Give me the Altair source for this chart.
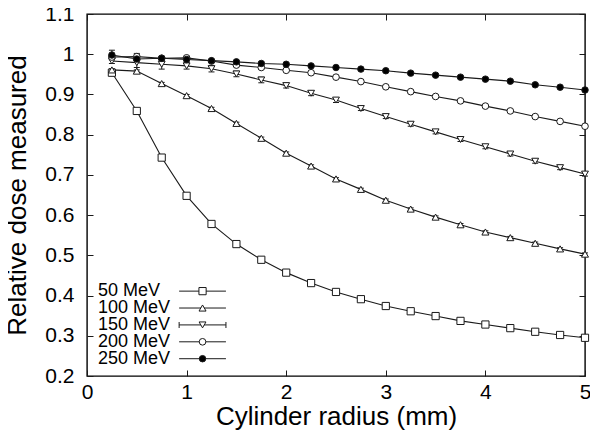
import altair as alt
import pandas as pd

# ---------------- data ----------------
radius = [0.25, 0.5, 0.75, 1.0, 1.25, 1.5, 1.75, 2.0, 2.25, 2.5,
          2.75, 3.0, 3.25, 3.5, 3.75, 4.0, 4.25, 4.5, 4.75, 5.0]
series_names = ["50 MeV", "100 MeV", "150 MeV", "200 MeV", "250 MeV"]

dose_50 = [0.954, 0.859, 0.743, 0.648, 0.578, 0.528, 0.489, 0.457, 0.431, 0.409,
           0.391, 0.374, 0.361, 0.349, 0.337, 0.328, 0.319, 0.310, 0.302, 0.295]
dose_100 = [0.961, 0.958, 0.927, 0.897, 0.865, 0.828, 0.791, 0.754, 0.722, 0.690,
            0.664, 0.637, 0.615, 0.595, 0.576, 0.558, 0.544, 0.530, 0.516, 0.503]
dose_150 = [0.983, 0.979, 0.975, 0.971, 0.964, 0.951, 0.936, 0.922, 0.903, 0.886,
            0.865, 0.845, 0.826, 0.807, 0.788, 0.770, 0.752, 0.734, 0.718, 0.702]
dose_200 = [0.993, 0.994, 0.990, 0.991, 0.983, 0.973, 0.967, 0.960, 0.954, 0.943,
            0.932, 0.919, 0.907, 0.895, 0.884, 0.871, 0.859, 0.845, 0.833, 0.821]
dose_250 = [0.998, 0.988, 0.990, 0.987, 0.984, 0.981, 0.977, 0.975, 0.971, 0.967,
            0.963, 0.959, 0.953, 0.948, 0.943, 0.938, 0.933, 0.924, 0.918, 0.911]

err_50 = [0.003] * 20
err_100 = [0.003] * 20
err_150 = [0.006, 0.012, 0.012, 0.008, 0.008, 0.007, 0.007, 0.006, 0.006, 0.006,
           0.005, 0.005, 0.005, 0.005, 0.005, 0.005, 0.005, 0.005, 0.005, 0.005]
err_200 = [0.004, 0.008, 0.004, 0.004, 0.003, 0.003, 0.003, 0.003, 0.003, 0.003,
           0.003, 0.003, 0.003, 0.003, 0.003, 0.003, 0.003, 0.003, 0.003, 0.003]
err_250 = [0.012, 0.004, 0.004, 0.003, 0.003, 0.003, 0.003, 0.003, 0.003, 0.003,
           0.003, 0.003, 0.003, 0.003, 0.003, 0.003, 0.003, 0.003, 0.003, 0.003]

x_ticks = [0, 1, 2, 3, 4, 5]
y_ticks = [0.2, 0.3, 0.4, 0.5, 0.6, 0.7, 0.8, 0.9, 1.0, 1.1]

# ---------------- tables ----------------
rows = []
for name, dose, err in zip(series_names,
                           [dose_50, dose_100, dose_150, dose_200, dose_250],
                           [err_50, err_100, err_150, err_200, err_250]):
    for r, d, e in zip(radius, dose, err):
        rows.append({"series": name, "r": r, "dose": d, "lo": d - e, "hi": d + e})
df = pd.DataFrame(rows)

# legend rows (layout, in data units of the plot)
LEG_TOP, LEG_STEP = 0.411, 0.042
leg_df = pd.DataFrame({"series": series_names,
                       "ly": [LEG_TOP - i * LEG_STEP for i in range(len(series_names))]})

# ---------------- styling ----------------
W, H = 498, 362
FONT = "Liberation Sans"
INK = "#1a1a1a"
shapes = ["square", "triangle-up", "triangle-down", "circle", "circle"]
fills = ["white", "white", "white", "white", "black"]
sizes = [52, 42, 42, 62, 46]

xs = alt.Scale(domain=[0, 5], nice=False, zero=False)
ys = alt.Scale(domain=[0.2, 1.1], nice=False, zero=False)

shape_enc = alt.Shape("series:N", scale=alt.Scale(domain=series_names, range=shapes), legend=None)
fill_enc = alt.Fill("series:N", scale=alt.Scale(domain=series_names, range=fills), legend=None)
size_enc = alt.Size("series:N", scale=alt.Scale(domain=series_names, range=sizes), legend=None)

ax_x_main = alt.Axis(orient="bottom", values=x_ticks, ticks=False, tickSize=0, domain=False,
                     grid=False, labelFontSize=21, labelPadding=5, labelColor="black",
                     labelFont=FONT, labelFlush=False, labelOverlap=False,
                     title="Cylinder radius (mm)", titleFontSize=26,
                     titleFontWeight="normal", titleColor="black", titleFont=FONT,
                     titleY=48, titleBaseline="alphabetic")
ax_y_main = alt.Axis(orient="left", values=y_ticks, format="~g", ticks=False, tickSize=0,
                     domain=False, grid=False, labelFontSize=21, labelPadding=13,
                     labelColor="black", labelFont=FONT, labelFlush=False, labelOverlap=False,
                     title="Relative dose measured",
                     titleFontSize=26, titleFontWeight="normal", titleColor="black",
                     titleFont=FONT, titleX=-70, titleY=H / 2, titleAngle=270,
                     titleBaseline="middle", titleAlign="center")
# inward ticks (mirrored on all four sides)
ax_x_in_bottom = alt.Axis(orient="top", offset=-H, values=x_ticks, labels=False, ticks=True,
                          tickSize=6, tickColor=INK, domain=False, grid=False, title="")
ax_x_in_top = alt.Axis(orient="bottom", offset=-H, values=x_ticks, labels=False, ticks=True,
                       tickSize=6, tickColor=INK, domain=False, grid=False, title="")
ax_y_in_left = alt.Axis(orient="right", offset=-W, values=y_ticks, labels=False, ticks=True,
                        tickSize=6, tickColor=INK, domain=False, grid=False, title="")
ax_y_in_right = alt.Axis(orient="left", offset=-W, values=y_ticks, labels=False, ticks=True,
                         tickSize=6, tickColor=INK, domain=False, grid=False, title="")

base = alt.Chart(df)

lines = base.mark_line(color=INK, strokeWidth=1.1).encode(
    x=alt.X("r:Q", scale=xs, axis=ax_x_main),
    y=alt.Y("dose:Q", scale=ys, axis=ax_y_main),
    detail="series:N",
)
bars = base.mark_rule(color=INK, strokeWidth=1).encode(
    x=alt.X("r:Q", axis=ax_x_in_bottom),
    y=alt.Y("lo:Q", axis=ax_y_in_left),
    y2="hi:Q",
)
caps_lo = base.mark_tick(orient="horizontal", size=6, thickness=1, color=INK, opacity=1).encode(
    x=alt.X("r:Q", axis=ax_x_in_top),
    y=alt.Y("lo:Q", axis=ax_y_in_right),
)
caps_hi = base.mark_tick(orient="horizontal", size=6, thickness=1, color=INK, opacity=1).encode(
    x=alt.X("r:Q", axis=None),
    y=alt.Y("hi:Q", axis=None),
)
points = base.mark_point(filled=True, stroke=INK, strokeWidth=1, opacity=1).encode(
    x=alt.X("r:Q", axis=None),
    y=alt.Y("dose:Q", axis=None),
    shape=shape_enc, fill=fill_enc, size=size_enc,
)

# ---------------- legend (inside, lower left) ----------------
LX_TEXT, LX0, LX1, LXM = 0.11, 0.925, 1.395, 1.16
leg = alt.Chart(leg_df).transform_calculate(
    tx=str(LX_TEXT), x0=str(LX0), x1=str(LX1), xm=str(LXM)
)
leg_text = leg.mark_text(align="left", baseline="middle", fontSize=18, font=FONT,
                         color="black").encode(
    x=alt.X("tx:Q", axis=None), y=alt.Y("ly:Q", axis=None), text="series:N")
leg_line = leg.mark_rule(color=INK, strokeWidth=1).encode(
    x=alt.X("x0:Q", axis=None), x2="x1:Q", y=alt.Y("ly:Q", axis=None))
leg_caps0 = leg.transform_filter(alt.datum.series == "150 MeV").mark_tick(
    orient="vertical", size=6, thickness=1, color=INK, opacity=1).encode(
    x=alt.X("x0:Q", axis=None), y=alt.Y("ly:Q", axis=None))
leg_caps1 = leg.transform_filter(alt.datum.series == "150 MeV").mark_tick(
    orient="vertical", size=6, thickness=1, color=INK, opacity=1).encode(
    x=alt.X("x1:Q", axis=None), y=alt.Y("ly:Q", axis=None))
leg_pts = leg.mark_point(filled=True, stroke=INK, strokeWidth=1, opacity=1).encode(
    x=alt.X("xm:Q", axis=None), y=alt.Y("ly:Q", axis=None),
    shape=shape_enc, fill=fill_enc, size=size_enc)

chart = alt.layer(
    lines, bars, caps_lo, caps_hi, points,
    leg_line, leg_caps0, leg_caps1, leg_pts, leg_text,
).resolve_axis(
    x="independent", y="independent"
).properties(
    width=W, height=H,
    autosize=alt.AutoSizeParams(type="none"),
    padding={"left": 79, "top": 6, "right": 5, "bottom": 56},
).configure(
    font=FONT
).configure_view(
    stroke="black", strokeWidth=1.4
)

chart.save("out.html", embed_options={"renderer": "svg", "actions": False})
